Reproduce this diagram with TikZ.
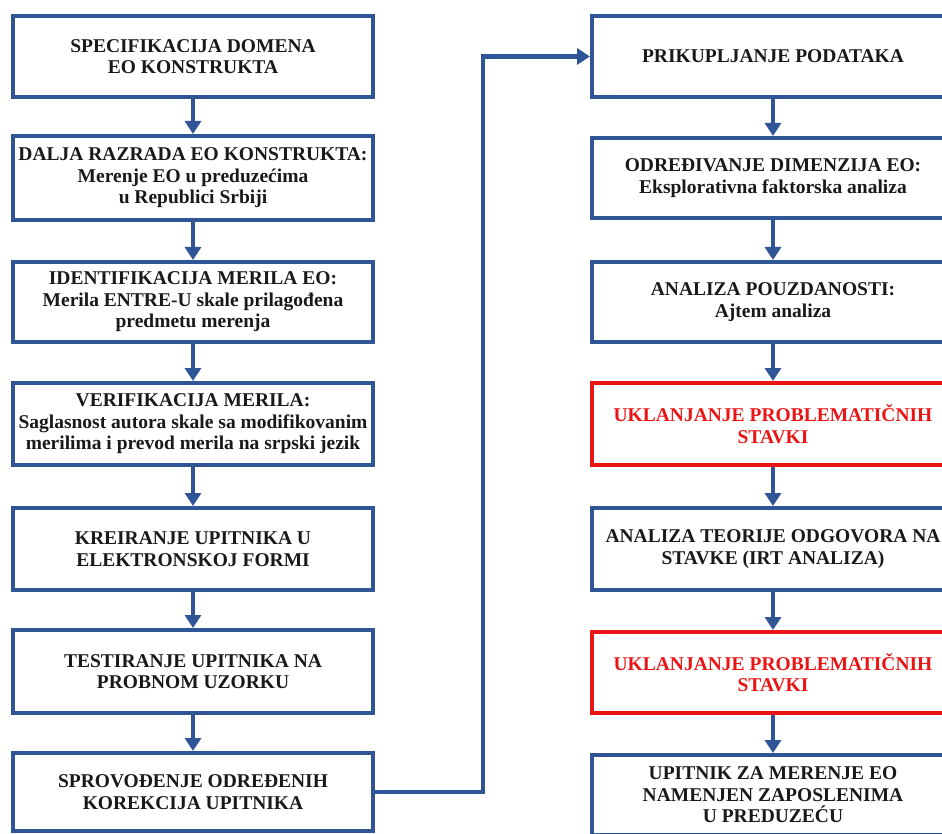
\documentclass[tikz,border=0pt]{standalone}
\usepackage{fontspec}
\setmainfont{Liberation Serif}
\usetikzlibrary{arrows.meta}
\definecolor{flowblue}{RGB}{47,85,151}
\definecolor{flowred}{RGB}{235,20,20}
\tikzset{
  stepbox/.style={draw=flowblue, line width=4pt, fill=white, rectangle,
    inner sep=0pt, align=center, font=\bfseries\fontsize{19.5}{21.5}\selectfont,
    text=black!90},
  leftbox/.style={stepbox, minimum width=360pt},
  rightbox/.style={stepbox, minimum width=362pt},
  warnbox/.style={draw=flowred, text=flowred},
  flow/.style={draw=flowblue, line width=4.5pt,
    -{Triangle[width=16pt,length=13pt]}}
}
\begin{document}
\begin{tikzpicture}[x=1pt,y=-1pt]
\useasboundingbox (0,0) rectangle (942,834);
\clip (0,0) rectangle (942,834);

% left column
\node[leftbox, minimum height=81pt] (l1) at (193,56.5)
  {SPECIFIKACIJA DOMENA\\EO KONSTRUKTA};
\node[leftbox, minimum height=84pt] (l2) at (193,178)
  {DALJA RAZRADA EO KONSTRUKTA:\\Merenje EO u preduzećima\\u Republici Srbiji};
\node[leftbox, minimum height=80pt] (l3) at (193,302)
  {IDENTIFIKACIJA MERILA EO:\\Merila ENTRE-U skale prilagođena\\predmetu merenja};
\node[leftbox, minimum height=82pt] (l4) at (193,424)
  {VERIFIKACIJA MERILA:\\Saglasnost autora skale sa modifikovanim\\merilima i prevod merila na srpski jezik};
\node[leftbox, minimum height=82pt] (l5) at (193,549)
  {KREIRANJE UPITNIKA U\\ELEKTRONSKOJ FORMI};
\node[leftbox, minimum height=83pt] (l6) at (193,671.5)
  {TESTIRANJE UPITNIKA NA\\PROBNOM UZORKU};
\node[leftbox, minimum height=78pt] (l7) at (193,792)
  {SPROVOĐENJE ODREĐENIH\\KOREKCIJA UPITNIKA};

% right column
\node[rightbox, minimum height=81pt] (r1) at (773,56.5)
  {PRIKUPLJANJE PODATAKA};
\node[rightbox, minimum height=80pt] (r2) at (773,178)
  {ODREĐIVANJE DIMENZIJA EO:\\Eksplorativna faktorska analiza};
\node[rightbox, minimum height=80pt] (r3) at (773,302)
  {ANALIZA POUZDANOSTI:\\Ajtem analiza};
\node[rightbox, warnbox, minimum height=82pt] (r4) at (773,424)
  {UKLANJANJE PROBLEMATIČNIH\\STAVKI};
\node[rightbox, minimum height=82pt] (r5) at (773,549)
  {ANALIZA TEORIJE ODGOVORA NA\\STAVKE (IRT ANALIZA)};
\node[rightbox, warnbox, minimum height=81pt] (r6) at (773,672.5)
  {UKLANJANJE PROBLEMATIČNIH\\STAVKI};
\node[rightbox, minimum height=80pt] (r7) at (773,795)
  {UPITNIK ZA MERENJE EO\\NAMENJEN ZAPOSLENIMA\\U PREDUZEĆU};

% vertical flow arrows
\foreach \a/\b in {l1/l2,l2/l3,l3/l4,l4/l5,l5/l6,l6/l7,
                   r1/r2,r2/r3,r3/r4,r4/r5,r5/r6,r6/r7}
  \draw[flow] (\a.south) -- (\b.north);

% link from the last left step to the first right step
\coordinate (turn) at (483,0);
\draw[flow] (l7.east) -| (turn |- r1.west) -- (r1.west);
\end{tikzpicture}
\end{document}
